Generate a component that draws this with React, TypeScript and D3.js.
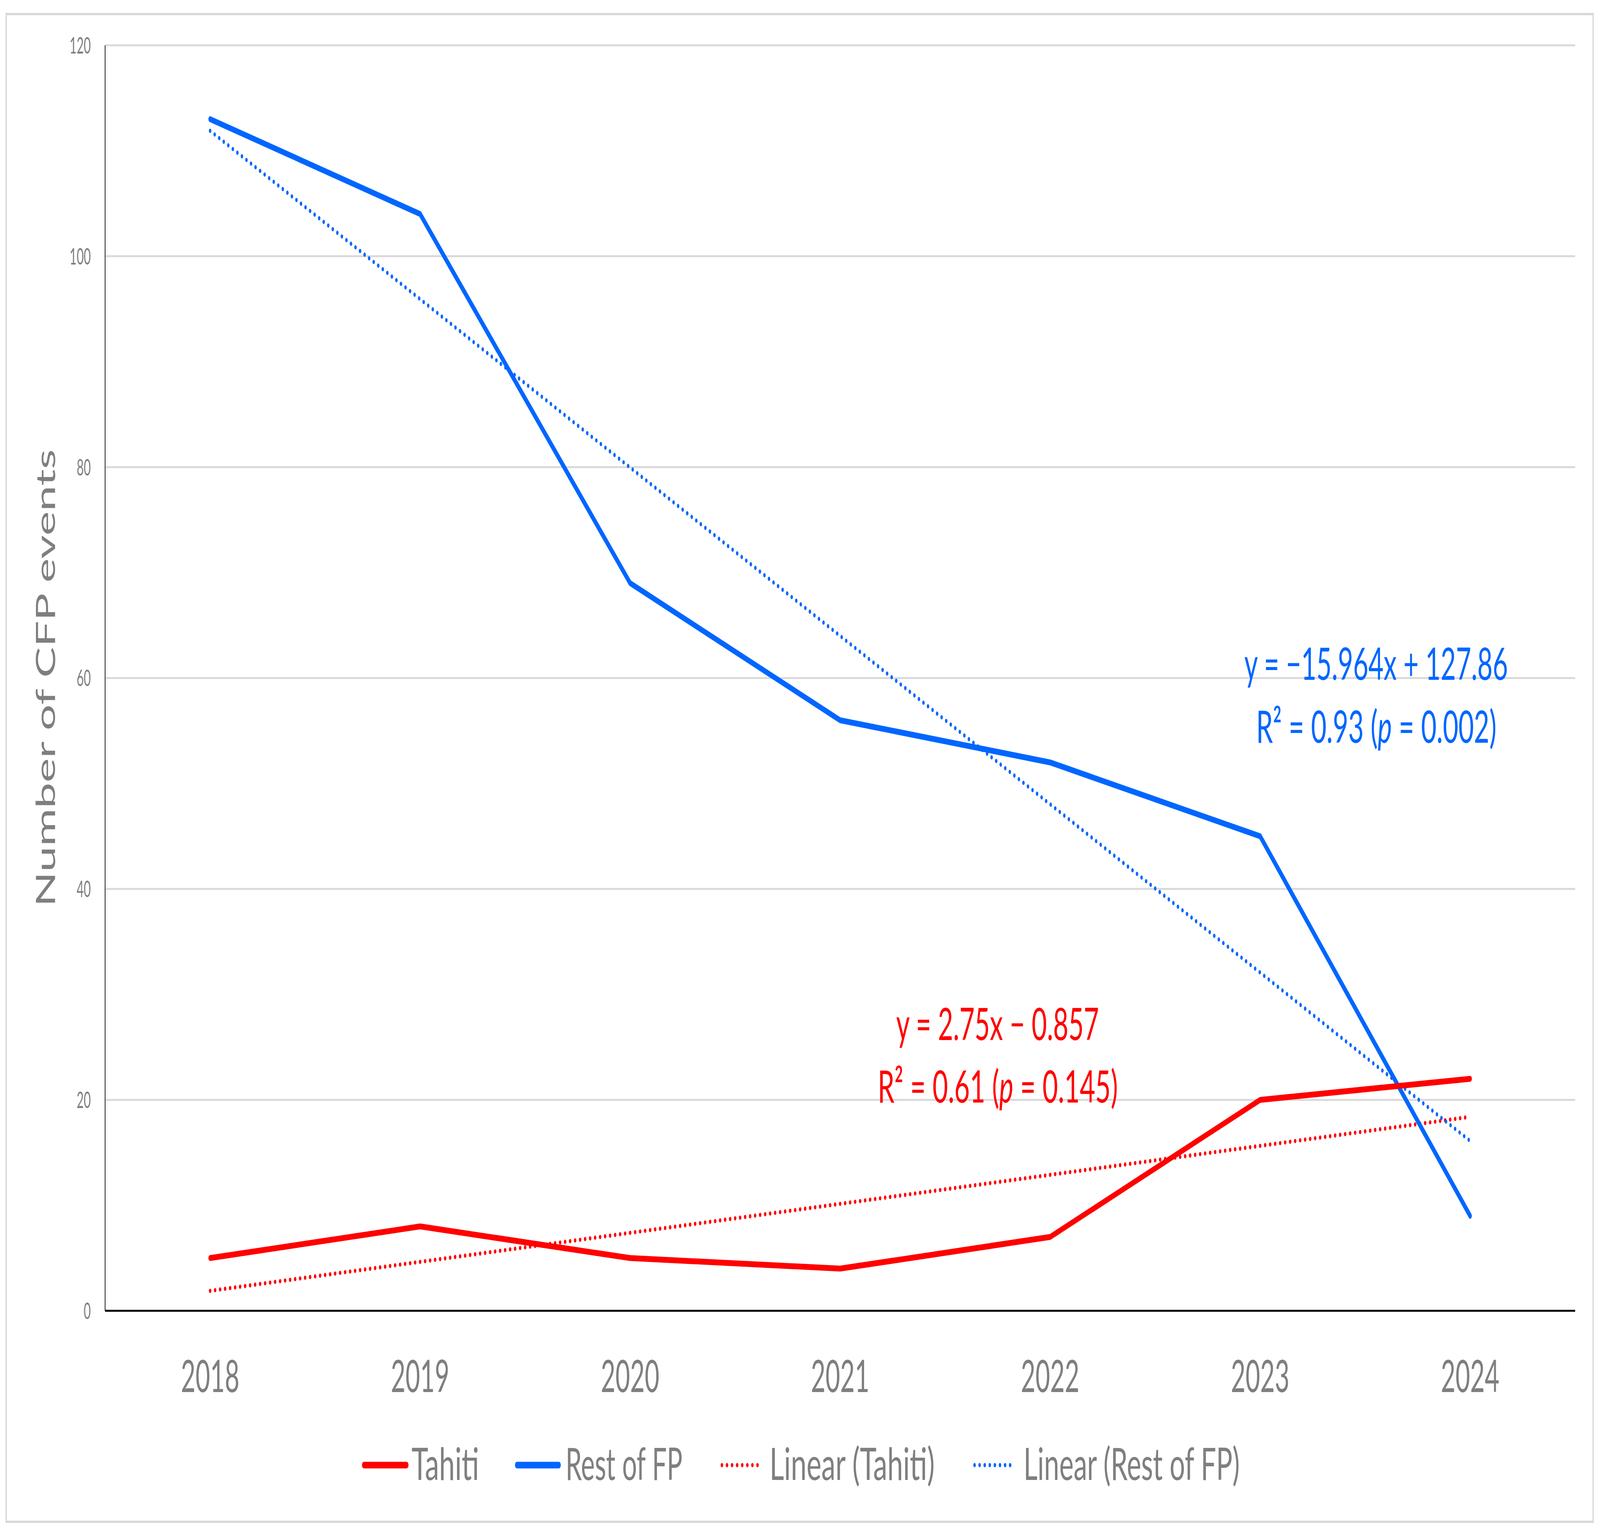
import React from 'react';
import * as d3 from 'd3';

// ---- data ----
const years = ['2018', '2019', '2020', '2021', '2022', '2023', '2024'];
const tahiti = [5, 8, 5, 4, 7, 20, 22];
const restOfFP = [113, 104, 69, 56, 52, 45, 9];
const yTicks = [0, 20, 40, 60, 80, 100, 120];
const legendLabels = ['Tahiti', 'Rest of FP', 'Linear (Tahiti)', 'Linear (Rest of FP)'];
const restEqLine = 'y = −15.964x + 127.86';
const restR2 = ['R² = 0.93 (', 'p', ' = 0.002)'];
const tahitiEqLine = 'y = 2.75x − 0.857';
const tahitiR2 = ['R² = 0.61 (', 'p', ' = 0.145)'];
const yTitle = 'Number of CFP events';

// ---- layout / style ----
const W = 7017;
const H = 3934;
const PLOT = { left: 461, right: 6908, top: 116, bottom: 3355 };
const RED = '#FF0000';
const BLUE = '#0066FF';
const GRAY = '#7F7F7F';
const GRID = '#D9D9D9';
const FONT = "Lato, 'Open Sans', sans-serif";

function linreg(vals: number[]) {
  const xs = vals.map((_, i) => i + 1);
  const mx = d3.mean(xs)!;
  const my = d3.mean(vals)!;
  let sxy = 0, sxx = 0;
  xs.forEach((x, i) => { sxy += (x - mx) * (vals[i] - my); sxx += (x - mx) * (x - mx); });
  const slope = sxy / sxx;
  const intercept = my - slope * mx;
  return xs.map((x) => slope * x + intercept);
}

export default function App() {
  const x = d3.scaleBand<string>().domain(years).range([PLOT.left, PLOT.right]).padding(0);
  const y = d3.scaleLinear().domain([0, 120]).range([PLOT.bottom, PLOT.top]);
  const cx = (yr: string) => (x(yr) as number) + x.bandwidth() / 2;

  const line = d3.line<number>()
    .x((_, i) => cx(years[i]))
    .y((d) => y(d));

  const tahitiTrend = linreg(tahiti);
  const restTrend = linreg(restOfFP);

  const legend = [
    { sx: 1588, sw: 203, tx: 1805, tw: 296, color: RED, dotted: false },
    { sx: 2259, sw: 200, tx: 2480, tw: 513, color: BLUE, dotted: false },
    { sx: 3160, sw: 190, tx: 3375, tw: 724, color: RED, dotted: true },
    { sx: 4268, sw: 187, tx: 4489, tw: 948, color: BLUE, dotted: true },
  ];

  return (
    <svg
      viewBox={`0 0 ${W} ${H}`}
      preserveAspectRatio="none"
      style={{
        position: 'fixed',
        left: 0,
        top: 0,
        display: 'block',
        width: '100vw',
        height: '100vh',
        background: '#fff',
      }}
    >
      <rect x={0} y={0} width={W} height={H} fill="#fff" />
      <rect x={27} y={36} width={6960} height={3859} fill="#fff" stroke={GRID} strokeWidth={6} />

      {/* gridlines */}
      {yTicks.filter((t) => t > 0).map((t) => (
        <line key={t} x1={PLOT.left} x2={PLOT.right} y1={y(t)} y2={y(t)} stroke={GRID} strokeWidth={5} />
      ))}

      {/* axes */}
      <line x1={PLOT.left} x2={PLOT.left} y1={PLOT.top} y2={PLOT.bottom} stroke="#000" strokeWidth={3} />
      <line x1={PLOT.left} x2={PLOT.right} y1={y(0)} y2={y(0)} stroke="#000" strokeWidth={5} />

      {/* y tick labels */}
      {yTicks.map((t) => (
        <text
          key={t}
          x={398}
          y={y(t) + 21}
          textAnchor="end"
          fontFamily={FONT}
          fontSize={58}
          fill={GRAY}
          textLength={String(t).length * 31}
          lengthAdjust="spacingAndGlyphs"
        >
          {t}
        </text>
      ))}

      {/* x labels */}
      {years.map((yr) => (
        <text
          key={yr}
          x={cx(yr)}
          y={3563}
          textAnchor="middle"
          fontFamily={FONT}
          fontSize={115}
          fill={GRAY}
          textLength={257}
          lengthAdjust="spacingAndGlyphs"
        >
          {yr}
        </text>
      ))}

      {/* y title */}
      <text
        transform={`translate(242, ${(PLOT.top + PLOT.bottom) / 2}) rotate(-90)`}
        textAnchor="middle"
        fontFamily={FONT}
        fontSize={116}
        fill={GRAY}
        textLength={1171}
        lengthAdjust="spacingAndGlyphs"
      >
        {yTitle}
      </text>

      {/* trend lines */}
      <path d={line(tahitiTrend) || ''} fill="none" stroke={RED} strokeWidth={11} strokeDasharray="0 22" strokeLinecap="round" />
      <path d={line(restTrend) || ''} fill="none" stroke={BLUE} strokeWidth={11} strokeDasharray="0 22" strokeLinecap="round" />

      {/* series lines */}
      <path d={line(restOfFP) || ''} fill="none" stroke={BLUE} strokeWidth={15} strokeLinejoin="round" strokeLinecap="round" />
      <path d={line(tahiti) || ''} fill="none" stroke={RED} strokeWidth={15} strokeLinejoin="round" strokeLinecap="round" />

      {/* annotations */}
      <text x={6035} y={1740} textAnchor="middle" fontFamily={FONT} fontSize={115} fill={BLUE} textLength={1156} lengthAdjust="spacingAndGlyphs">
        {restEqLine}
      </text>
      <text x={6036} y={1901} textAnchor="middle" fontFamily={FONT} fontSize={115} fill={BLUE} textLength={1054} lengthAdjust="spacingAndGlyphs">
        {restR2[0]}<tspan fontStyle="italic">{restR2[1]}</tspan>{restR2[2]}
      </text>
      <text x={4375} y={2662} textAnchor="middle" fontFamily={FONT} fontSize={115} fill={RED} textLength={889} lengthAdjust="spacingAndGlyphs">
        {tahitiEqLine}
      </text>
      <text x={4376} y={2822} textAnchor="middle" fontFamily={FONT} fontSize={115} fill={RED} textLength={1053} lengthAdjust="spacingAndGlyphs">
        {tahitiR2[0]}<tspan fontStyle="italic">{tahitiR2[1]}</tspan>{tahitiR2[2]}
      </text>

      {/* legend */}
      {legend.map((e, i) => (
        <g key={i}>
          {e.dotted ? (
            <line x1={e.sx + 6} x2={e.sx + e.sw - 6} y1={3750} y2={3750} stroke={e.color} strokeWidth={11} strokeDasharray="0 22.3" strokeLinecap="round" />
          ) : (
            <line x1={e.sx + 8} x2={e.sx + e.sw - 8} y1={3750} y2={3750} stroke={e.color} strokeWidth={17} strokeLinecap="round" />
          )}
          <text x={e.tx} y={3788} fontFamily={FONT} fontSize={115} fill={GRAY} textLength={e.tw} lengthAdjust="spacingAndGlyphs">
            {legendLabels[i]}
          </text>
        </g>
      ))}
    </svg>
  );
}
